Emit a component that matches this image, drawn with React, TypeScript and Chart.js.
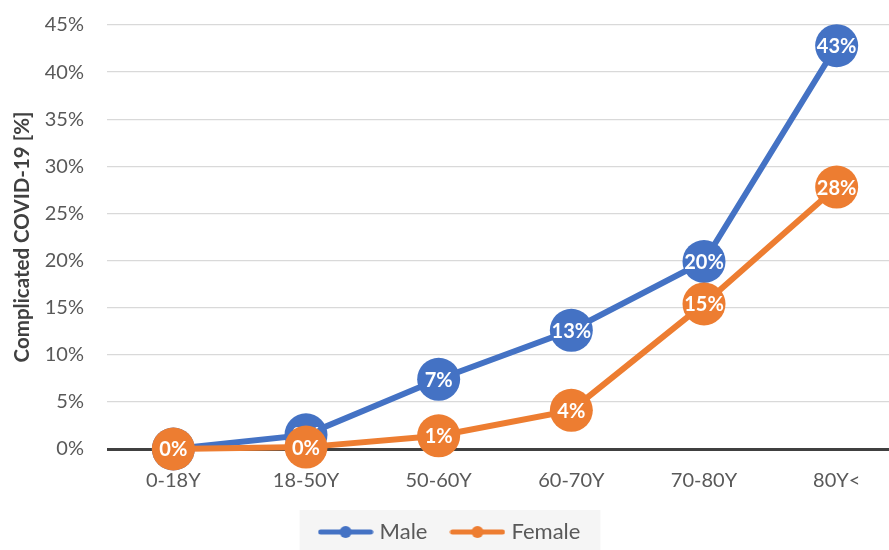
import React, { useEffect, useRef } from "react";
import { Chart, registerables } from "chart.js";

Chart.register(...registerables);

const categories = ["0-18Y", "18-50Y", "50-60Y", "60-70Y", "70-80Y", "80Y<"];
const maleValues = [0, 1.5, 7.4, 12.6, 19.9, 42.8];
const femaleValues = [0, 0.2, 1.4, 4.1, 15.4, 27.8];
const yTicks = [0, 5, 10, 15, 20, 25, 30, 35, 40, 45];
const yTitle = "Complicated COVID-19 [%]";

const MALE = "#4472C4";
const FEMALE = "#ED7D31";
const FONT = "Lato, 'Open Sans', sans-serif";

function legendIcon(color: string) {
  const c = document.createElement("canvas");
  c.width = 56;
  c.height = 14;
  const g = c.getContext("2d")!;
  g.strokeStyle = color;
  g.lineWidth = 5;
  g.lineCap = "round";
  g.beginPath();
  g.moveTo(3, 7);
  g.lineTo(53, 7);
  g.stroke();
  g.fillStyle = color;
  g.beginPath();
  g.arc(28, 7, 6, 0, Math.PI * 2);
  g.fill();
  return c;
}

const labelPlugin = {
  id: "pointLabels",
  afterDatasetDraw(chart: any, args: any) {
    const ctx = chart.ctx;
    const ds = chart.data.datasets[args.index];
    ctx.save();
    ctx.font = `bold 20px ${FONT}`;
    ctx.fillStyle = "#ffffff";
    ctx.textAlign = "center";
    ctx.textBaseline = "middle";
    args.meta.data.forEach((el: any, i: number) => {
      const v = ds.data[i] as number;
      ctx.fillText(`${Math.round(v)}%`, el.x, el.y + 1);
    });
    ctx.restore();
  },
};

const legendBgPlugin = {
  id: "legendBg",
  beforeDraw(chart: any) {
    const lg = chart.legend;
    if (!lg || !lg.legendHitBoxes || !lg.legendHitBoxes.length) return;
    const hb = lg.legendHitBoxes;
    const left = Math.min(...hb.map((h: any) => h.left)) - 23;
    const right = Math.max(...hb.map((h: any) => h.left + h.width)) + 20;
    const top = Math.min(...hb.map((h: any) => h.top)) - 11;
    const bottom = chart.height;
    const ctx = chart.ctx;
    ctx.save();
    ctx.fillStyle = "#f5f5f5";
    ctx.fillRect(left, top, right - left, bottom - top);
    ctx.restore();
  },
};

export default function App() {
  const ref = useRef<HTMLCanvasElement>(null);
  useEffect(() => {
    const icons = [legendIcon(MALE), legendIcon(FEMALE)];
    const chart = new Chart(ref.current!, {
      type: "line",
      data: {
        labels: categories,
        datasets: [
          {
            label: "Male",
            data: maleValues,
            borderColor: MALE,
            backgroundColor: MALE,
            pointBackgroundColor: MALE,
            pointBorderColor: MALE,
            borderWidth: 6,
            pointRadius: 21.5,
            pointHoverRadius: 21.5,
            pointBorderWidth: 0,
            clip: false as any,
            order: 1,
          },
          {
            label: "Female",
            data: femaleValues,
            borderColor: FEMALE,
            backgroundColor: FEMALE,
            pointBackgroundColor: FEMALE,
            pointBorderColor: FEMALE,
            borderWidth: 6,
            pointRadius: 21.5,
            pointHoverRadius: 21.5,
            pointBorderWidth: 0,
            clip: false as any,
            order: 0,
          },
        ],
      },
      options: {
        animation: false,
        responsive: false,
        maintainAspectRatio: false,
        layout: { autoPadding: false, padding: { top: 25, left: 0, right: 0, bottom: -3 } },
        scales: {
          x: {
            offset: true,
            grid: { display: false, drawTicks: false },
            border: { display: false },
            ticks: { color: "#595959", font: { family: FONT, size: 20 }, padding: 20 },
            afterFit: (s: any) => {
              s.height = 45;
              s.paddingLeft = 0;
              s.paddingRight = 0;
            },
          },
          y: {
            min: 0,
            max: 45,
            afterBuildTicks: (s: any) => {
              s.ticks = yTicks.map((v) => ({ value: v }));
            },
            grid: {
              drawTicks: false,
              color: (c: any) => (c.tick && c.tick.value === 0 ? "#404040" : "#d9d9d9"),
              lineWidth: (c: any) => (c.tick && c.tick.value === 0 ? 3 : 1.3),
            },
            border: { display: false },
            ticks: {
              color: "#595959",
              font: { family: FONT, size: 20 },
              padding: 23,
              callback: (v: any) => `${v}%`,
            },
            title: {
              display: true,
              text: yTitle,
              color: "#404040",
              font: { family: FONT, size: 20.5, weight: "bold" },
              padding: { top: 10, bottom: 0 },
            },
            afterFit: (s: any) => {
              s.width = 107;
              s.paddingTop = 0;
              s.paddingBottom = 0;
            },
          },
        },
        plugins: {
          tooltip: { enabled: false },
          legend: {
            position: "bottom",
            labels: {
              usePointStyle: true,
              pointStyleWidth: 46,
              padding: 27,
              color: "#595959",
              font: { family: FONT, size: 22 },
              generateLabels: (ch: any) =>
                ch.data.datasets.map((d: any, i: number) => ({
                  text: d.label,
                  fillStyle: d.borderColor,
                  strokeStyle: d.borderColor,
                  lineWidth: 0,
                  pointStyle: icons[i],
                  hidden: false,
                  datasetIndex: i,
                  fontColor: "#595959",
                })),
            },
          },
        },
      },
      plugins: [labelPlugin, legendBgPlugin],
    });
    return () => chart.destroy();
  }, []);

  return (
    <div style={{ position: "fixed", left: 0, top: 0, width: 889, height: 550, overflow: "hidden", background: "#fff" }}>
      <div style={{ position: "relative", width: 903, height: 550 }}>
        <canvas ref={ref} width={903} height={550} style={{ width: 903, height: 550, display: "block" }} />
      </div>
    </div>
  );
}
